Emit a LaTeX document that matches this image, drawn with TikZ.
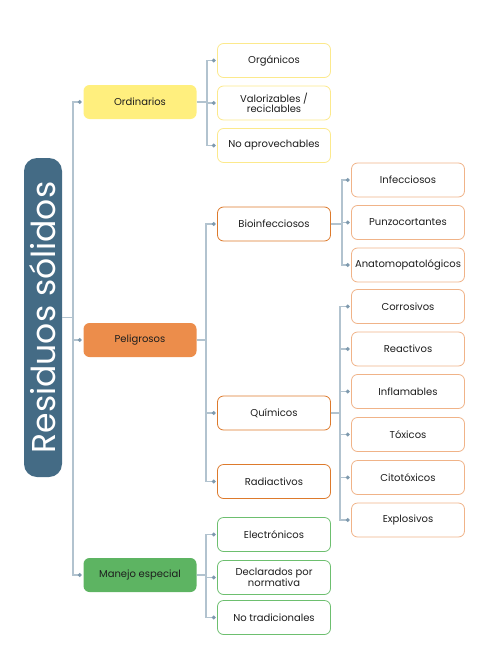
\documentclass[tikz,border=0pt]{standalone}
\usepackage{fontspec}
\setmainfont{Poppins}
\usepackage{tikz}
\usetikzlibrary{arrows.meta}
\definecolor{raiz}{HTML}{446B85}
\definecolor{linea}{HTML}{B2C3CF}
\definecolor{punto}{HTML}{7F9AAE}
\definecolor{texto}{HTML}{1E1E1E}
\definecolor{amarillo}{HTML}{FFEF7E}
\definecolor{amarilloborde}{HTML}{FCE98C}
\definecolor{naranja}{HTML}{EC8D4B}
\definecolor{naranjaborde}{HTML}{DD7A2C}
\definecolor{naranjaclaro}{HTML}{F0B388}
\definecolor{verde}{HTML}{5DB462}
\definecolor{verdeborde}{HTML}{6DBF6F}
\tikzset{
    caja/.style={rounded corners=6pt, minimum width=113pt, minimum height=34pt,
        align=center, inner sep=1pt, text=texto, line width=0.8pt},
    hoja/.style={caja, draw, fill=white},
    conector/.style={draw=linea, line width=1.5pt, shorten >=1.5pt,
        -{Circle[length=3.6pt,color=punto]}}
}
\begin{document}
\begin{tikzpicture}[x=1pt,y=-1pt,font=\fontsize{10}{9.8}\selectfont]
    \useasboundingbox (0,0) rectangle (483,645);
    \node[fill=raiz,rounded corners=13pt,rotate=90,minimum width=319pt,minimum height=38pt,
        inner sep=0pt,text=white,font=\fontsize{33}{33}\selectfont] (res) at (43,317.5) {Residuos sólidos};
    \node[caja,fill=amarillo] (ord) at (140,102) {Ordinarios};
    \node[caja,fill=naranja] (pel) at (140,340) {Peligrosos};
    \node[caja,fill=verde] (man) at (140,575) {Manejo especial};
    \foreach \c in {ord,pel,man}{
            \draw[conector] (res.south) -- ++(11,0) |- (\c.west);
        }
    \foreach \n/\y/\t in {org/60.5/Orgánicos,val/103/{Valorizables /\\ reciclables},noa/145.5/No aprovechables}{
            \node[hoja,draw=amarilloborde] (\n) at (274,\y) {\t};
            \draw[conector] (ord.east) -- ++(10,0) |- (\n.west);
        }
    \foreach \n/\y/\t in {bio/224/Bioinfecciosos,qui/413/Químicos,rad/481.5/Radiactivos}{
            \node[hoja,draw=naranjaborde] (\n) at (274,\y) {\t};
            \draw[conector] (pel.east) -- ++(9,0) |- (\n.west);
        }
    \foreach \n/\y/\t in {inf/180/Infecciosos,pun/222.5/Punzocortantes,ana/265/Anatomopatológicos}{
            \node[hoja,draw=naranjaclaro] (\n) at (408,\y) {\t};
            \draw[conector] (bio.east) -- ++(11,0) |- (\n.west);
        }
    \foreach \n/\y/\t in {cor/306.5/Corrosivos,rea/349/Reactivos,inl/391.5/Inflamables,tox/434.5/Tóxicos,cit/477.5/Citotóxicos,exp/520/Explosivos}{
            \node[hoja,draw=naranjaclaro] (\n) at (408,\y) {\t};
            \draw[conector] (qui.east) -- ++(9,0) |- (\n.west);
        }
    \foreach \n/\y/\t in {ele/534.5/Electrónicos,dec/577.5/{Declarados por\\ normativa},not/617.5/No tradicionales}{
            \node[hoja,draw=verdeborde] (\n) at (274,\y) {\t};
            \draw[conector] (man.east) -- ++(9,0) |- (\n.west);
        }
\end{tikzpicture}
\end{document}
